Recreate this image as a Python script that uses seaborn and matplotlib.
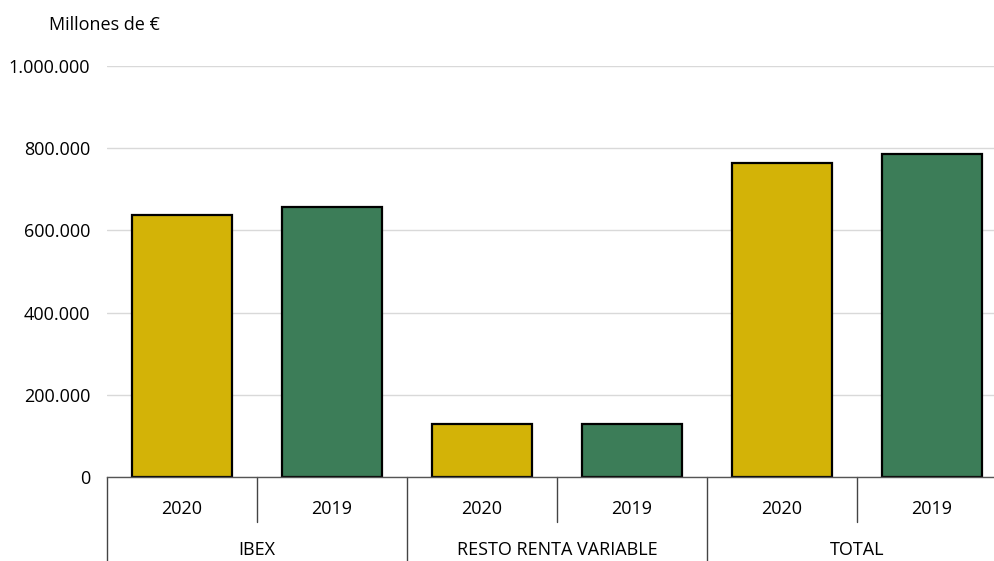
import pandas as pd
import matplotlib.pyplot as plt
import seaborn as sns
from matplotlib.ticker import FuncFormatter

groups = ["IBEX", "IBEX", "RESTO RENTA VARIABLE", "RESTO RENTA VARIABLE", "TOTAL", "TOTAL"]
years = ["2020", "2019", "2020", "2019", "2020", "2019"]
values = [637000, 658000, 128000, 128000, 765000, 786000]
yticks = [0, 200000, 400000, 600000, 800000, 1000000]

colors = {"2020": "#D3B307", "2019": "#3C7D58"}

df = pd.DataFrame({"group": groups, "year": years, "value": values})
df["slot"] = [f"{g} {y}" for g, y in zip(groups, years)]

sns.set_style("white")
plt.rcParams["font.family"] = ["Open Sans", "DejaVu Sans"]
plt.rcParams["text.color"] = "black"

fig = plt.figure(figsize=(9.95, 5.61), dpi=100)
ax = fig.add_axes([107 / 995, 84 / 561, 888 / 995, 411 / 561])

sns.barplot(data=df, x="slot", y="value", hue="year", palette=colors, dodge=False,
            saturation=1, width=0.667, edgecolor="black", linewidth=1.6,
            legend=False, ax=ax, zorder=3)

ax.set_ylim(0, 1000000)
ax.set_xlim(-0.5, -0.5 + 888 / 150)
ax.set_yticks(yticks)
ax.yaxis.set_major_formatter(FuncFormatter(lambda v, p: f"{int(v):,}".replace(",", ".")))
ax.tick_params(axis="y", length=0, labelsize=13, pad=12, colors="black")
ax.grid(axis="y", color="#d9d9d9", linewidth=1, zorder=0)
ax.set_xticks([])
ax.set_xlabel("")
ax.set_ylabel("")
for s in ["top", "right", "left"]:
    ax.spines[s].set_visible(False)
ax.spines["bottom"].set_color("#555555")
ax.spines["bottom"].set_linewidth(1)
ax.spines["bottom"].set_zorder(4)

trans = ax.get_xaxis_transform()
for i, y in enumerate(years):
    ax.text(i, -0.077, y, transform=trans, ha="center", va="center", fontsize=13)

# separators between years and between groups
for i in range(len(years) + 1):
    xpos = i - 0.5
    bottom = -0.21 if i % 2 == 0 else -0.11
    ax.plot([xpos, xpos], [0, bottom], transform=trans, color="#444444", lw=1, clip_on=False)

group_names = list(dict.fromkeys(groups))
for k, g in enumerate(group_names):
    ax.text(2 * k + 0.5, -0.178, g, transform=trans, ha="center", va="center", fontsize=13)

fig.text(49 / 995, 1 - 25 / 561, "Millones de €", ha="left", va="center", fontsize=13)

fig.savefig("out.png", dpi=100)
